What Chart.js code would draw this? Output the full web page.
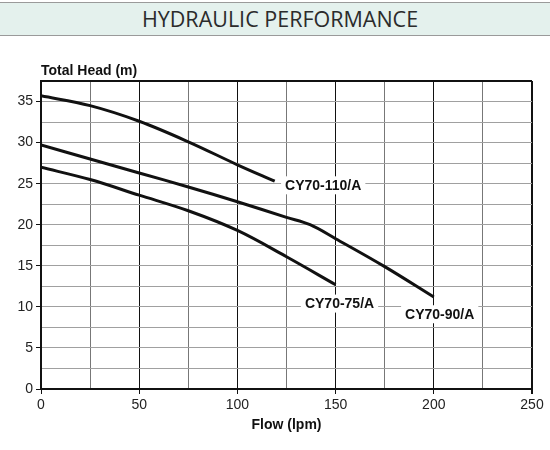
<!DOCTYPE html>
<html>
<head>
<meta charset="utf-8">
<script src="https://cdn.jsdelivr.net/npm/chart.js@4"></script>
<style>
  body { margin: 0; background: #fff; }
  #wrap { position: relative; width: 550px; height: 450px; }
  #banner {
    position: absolute; left: 0; top: 2px; width: 540px; height: 32px;
    background: #e4f1ed; border-top: 1px solid #9a9a9a; border-bottom: 1px solid #9a9a9a;
    font-family: "Open Sans", "Noto Sans", sans-serif; font-size: 21.5px; color: #2b2b2b;
    text-align: center; line-height: 32px; padding-left: 10px;
  }
  canvas { position: absolute; left: 0; top: 0; }
</style>
</head>
<body>
<div id="wrap">
  <canvas id="pump-chart" width="550" height="450"></canvas>
  <div id="banner">HYDRAULIC PERFORMANCE</div>
</div>
<script>
// curves (flow lpm -> head m)
const flow110 = [0, 25, 50, 75, 100, 119];
const head110 = [35.7, 34.5, 32.6, 30.1, 27.3, 25.3];
const flow90 = [0, 25, 50, 75, 100, 125, 137, 150, 175, 200];
const head90 = [29.7, 28.0, 26.3, 24.6, 22.8, 20.9, 20.0, 18.3, 14.9, 11.2];
const flow75 = [0, 25, 50, 75, 100, 125, 150];
const head75 = [27.0, 25.5, 23.6, 21.7, 19.3, 16.1, 12.7];

const curveNames = ["CY70-110/A", "CY70-90/A", "CY70-75/A"];
// label anchors (data coords)
const labelX = [143.7, 203, 152];
const labelY = [24.8, 9.1, 10.4];

const FONT = '"Liberation Sans", Arial, sans-serif';

function toPoints(xs, ys) {
  return xs.map((x, i) => ({ x: x, y: ys[i] }));
}

const curveLabels = {
  id: "curveLabels",
  afterDatasetsDraw(chart) {
    const ctx = chart.ctx;
    const xs = chart.scales.x;
    const ys = chart.scales.y;
    ctx.save();
    ctx.font = "bold 14px " + FONT;
    ctx.textAlign = "center";
    ctx.textBaseline = "middle";
    curveNames.forEach((name, i) => {
      const px = xs.getPixelForValue(labelX[i]);
      const py = ys.getPixelForValue(labelY[i]);
      const w = ctx.measureText(name).width;
      ctx.fillStyle = "#fff";
      ctx.fillRect(px - w / 2 - 4, py - 9, w + 8, 18);
      ctx.fillStyle = "#111";
      ctx.fillText(name, px, py + 1);
    });
    // y axis title, horizontal above the plot
    ctx.textAlign = "left";
    ctx.fillText("Total Head (m)", chart.chartArea.left, chart.chartArea.top - 10);
    ctx.restore();
  },
};

const data = {
  datasets: [
    { label: curveNames[0], data: toPoints(flow110, head110) },
    { label: curveNames[1], data: toPoints(flow90, head90) },
    { label: curveNames[2], data: toPoints(flow75, head75) },
  ].map((d) => ({
    ...d,
    borderColor: "#111",
    borderWidth: 3,
    pointRadius: 0,
    fill: false,
    tension: 0.35,
  })),
};

const config = {
  type: "line",
  data: data,
  options: {
    responsive: false,
    animation: false,
    layout: { padding: { top: 81, right: 18, left: 0, bottom: 16 } },
    plugins: {
      legend: { display: false },
      tooltip: { enabled: false },
    },
    scales: {
      x: {
        type: "linear",
        min: 0,
        max: 250,
        afterFit: (s) => { s.height = 45; },
        border: { color: "#111", width: 2 },
        grid: {
          color: (c) => (c.tick && c.tick.value % 50 === 0 ? "#111" : "#777"),
          lineWidth: (c) => (c.tick && c.tick.value === 250 ? 2 : 1),
          tickColor: (c) => (c.tick && c.tick.value % 50 === 0 ? "#111" : "rgba(0,0,0,0)"),
          tickLength: 5,
        },
        ticks: {
          stepSize: 25,
          autoSkip: false,
          maxRotation: 0,
          color: "#222",
          font: { family: FONT, size: 14 },
          callback: (v) => (v % 50 === 0 ? v : ""),
        },
        title: {
          display: true,
          text: "Flow (lpm)",
          color: "#111",
          font: { family: FONT, size: 14, weight: "bold" },
          padding: 0,
        },
      },
      y: {
        min: 0,
        max: 37.5,
        afterFit: (s) => { s.width = 41; },
        border: { color: "#111", width: 2 },
        grid: {
          color: (c) => (c.tick && c.tick.value === 37.5 ? "#111" : "#a0a0a0"),
          lineWidth: (c) => (c.tick && c.tick.value === 37.5 ? 2 : 1),
          tickColor: (c) => (c.tick && c.tick.value % 5 === 0 ? "#111" : "rgba(0,0,0,0)"),
          tickLength: 5,
        },
        ticks: {
          stepSize: 2.5,
          autoSkip: false,
          color: "#222",
          font: { family: FONT, size: 14 },
          callback: (v) => (v % 5 === 0 ? v : ""),
        },
      },
    },
  },
  plugins: [curveLabels],
};

new Chart(document.getElementById("pump-chart"), config);
</script>
</body>
</html>
